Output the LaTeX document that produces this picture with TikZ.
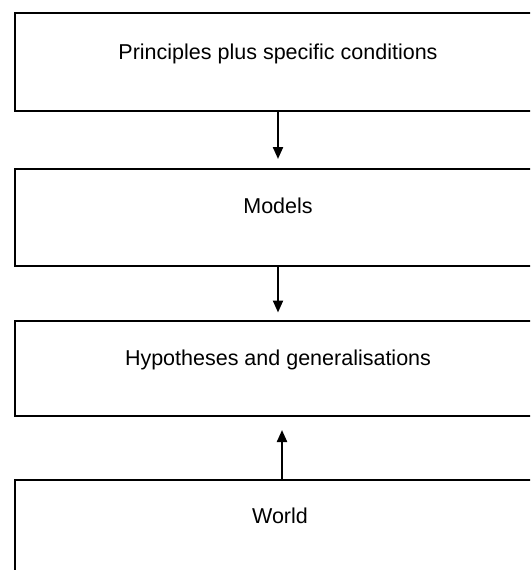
\documentclass[tikz,border=0pt]{standalone}
\usepackage{fontspec}
\setmainfont{Liberation Sans}
\usetikzlibrary{arrows.meta}
\tikzset{
  box/.style={draw=black, line width=2.2pt, rectangle, anchor=north west, minimum width=535pt, minimum height=97pt, inner sep=0pt},
  lbl/.style={anchor=base, inner sep=0pt, font=\fontsize{21.5pt}{24pt}\selectfont},
  conn/.style={line width=2.2pt, -{Triangle[length=12pt,width=10pt]}}
}
\begin{document}
\begin{tikzpicture}[x=1pt,y=-1pt]
\useasboundingbox (0,0) rectangle (530,570);
\clip (0,0) rectangle (530,570);
\fill[white] (0,0) rectangle (530,570);
\node[box, minimum height=97.5pt] (b1) at (13.5,12) {};
\node[box, minimum height=96.5pt] (b2) at (13.5,168) {};
\node[box, minimum height=94.5pt] (b3) at (13.5,320) {};
\node[box, minimum height=97pt] (b4) at (13.5,479) {};
\node[lbl] (t1) at (278,59) {Principles plus specific conditions};
\node[lbl] (t2) at (278,213) {Models};
\node[lbl] (t3) at (278,365) {Hypotheses and generalisations};
\node[lbl] (t4) at (280,523) {World};
\coordinate (e1) at (278,159);
\coordinate (e2) at (278,312.5);
\coordinate (e3) at (282,430);
\draw[conn] (b1.south -| e1) -- (e1);
\draw[conn] (b2.south -| e2) -- (e2);
\draw[conn] (b4.north -| e3) -- (e3);
\end{tikzpicture}
\end{document}
